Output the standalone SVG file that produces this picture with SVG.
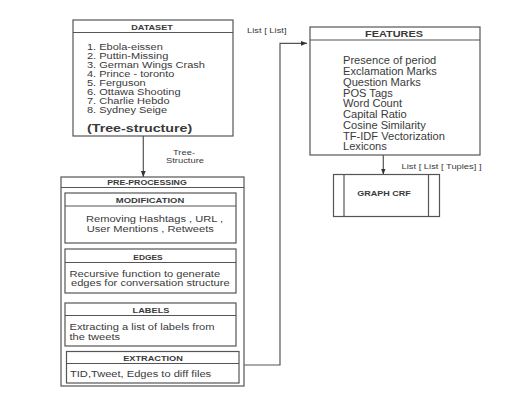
<svg xmlns="http://www.w3.org/2000/svg" width="529" height="403" viewBox="0 0 529 403">
<defs>
<style>
.b{fill:#fff;stroke:#555;stroke-width:1.2}
.l{fill:none;stroke:#555;stroke-width:1.2}
text{font-family:"Liberation Sans",Arial,sans-serif;fill:#3a3a3a}
.h{font-weight:bold;font-size:8px;text-anchor:middle}
.t{font-size:9.5px}
.f{font-size:10.5px}
.s{font-size:7.5px}
</style>
<marker id="ah" viewBox="0 0 10 10" refX="10" refY="5" markerWidth="6" markerHeight="6" markerUnits="userSpaceOnUse" orient="auto"><path d="M0,1 L10,5 L0,9 z" fill="#333"/></marker>
</defs>
<rect width="529" height="403" fill="#fff"/>
<g id="connectors">
<line class="l" x1="143.3" y1="136" x2="143.3" y2="177" marker-end="url(#ah)"/>
<polyline class="l" points="244,365 280,365 280,43.3 307,43.3" marker-end="url(#ah)"/>
<line class="l" x1="383.3" y1="155" x2="383.3" y2="174.5" marker-end="url(#ah)"/>
<text class="s" text-anchor="middle" transform="translate(184 155) scale(1.25 1)">Tree-</text>
<text class="s" text-anchor="middle" transform="translate(185 163) scale(1.25 1)">Structure</text>
<text class="s" transform="translate(247 32.5) scale(1.25 1)">List [ List]</text>
<text class="s" transform="translate(401.5 168.5) scale(1.25 1)">List [ List [ Tuples] ]</text>
</g>
<g id="dataset">
<rect class="b" x="73" y="20" width="160" height="116"/>
<line class="l" x1="73" y1="32.5" x2="233" y2="32.5"/>
<text class="h" transform="translate(152 29.5) scale(1.14 1)">DATASET</text>
<g transform="translate(87 0) scale(1.16 1)">
<text class="t" y="50.5">1. Ebola-eissen</text>
<text class="t" y="59.5">2. Puttin-Missing</text>
<text class="t" y="68.5">3. German Wings Crash</text>
<text class="t" y="77.5">4. Prince - toronto</text>
<text class="t" y="86.5">5. Ferguson</text>
<text class="t" y="95.5">6. Ottawa Shooting</text>
<text class="t" y="104.5">7. Charlie Hebdo</text>
<text class="t" y="113.5">8. Sydney Seige</text>
</g>
<text font-weight="bold" font-size="11.5" transform="translate(87 132) scale(1.24 1)">(Tree-structure)</text>
</g>
<g id="preprocessing">
<rect class="b" x="61" y="177" width="183" height="209"/>
<line class="l" x1="61" y1="187.5" x2="244" y2="187.5"/>
<text class="h" transform="translate(147 185) scale(1.1 1)">PRE-PROCESSING</text>
</g>
<g id="modification">
<rect class="b" x="65" y="193" width="171" height="50"/>
<line class="l" x1="65" y1="206" x2="236" y2="206"/>
<text class="h" transform="translate(150 203) scale(1.18 1)">MODIFICATION</text>
<g transform="translate(86 0) scale(1.17 1)">
<text class="t" y="222.5">Removing Hashtags , URL ,</text>
<text class="t" x="0.6" y="231.8">User Mentions , Retweets</text>
</g>
</g>
<g id="edges">
<rect class="b" x="65" y="249" width="171" height="44"/>
<line class="l" x1="65" y1="262.5" x2="236" y2="262.5"/>
<text class="h" transform="translate(148 259.5) scale(1.05 1)">EDGES</text>
<g transform="translate(69.5 0) scale(1.17 1)">
<text class="t" y="277">Recursive function to generate</text>
<text class="t" x="1.3" y="286.5">edges for conversation structure</text>
</g>
</g>
<g id="labels">
<rect class="b" x="65" y="303" width="171" height="43"/>
<line class="l" x1="65" y1="315.5" x2="236" y2="315.5"/>
<text class="h" transform="translate(151 312.5) scale(1.15 1)">LABELS</text>
<g transform="translate(69.5 0) scale(1.17 1)">
<text class="t" y="330.5">Extracting a list of labels from</text>
<text class="t" y="340">the tweets</text>
</g>
</g>
<g id="extraction">
<rect class="b" x="66.5" y="351.5" width="172.5" height="31.5"/>
<line class="l" x1="66.5" y1="363.5" x2="239" y2="363.5"/>
<text class="h" transform="translate(153 361) scale(1.15 1)">EXTRACTION</text>
<text class="t" transform="translate(70 376.5) scale(1.17 1)">TID,Tweet, Edges to diff files</text>
</g>
<g id="features">
<rect class="b" x="310" y="27" width="170" height="128"/>
<line class="l" x1="310" y1="40" x2="480" y2="40"/>
<text font-weight="bold" font-size="9.5" text-anchor="middle" transform="translate(394 37) scale(1.15 1)">FEATURES</text>
<g transform="translate(343 0) scale(1.06 1)">
<text class="f" y="64.5">Presence of period</text>
<text class="f" y="75.25">Exclamation Marks</text>
<text class="f" y="86">Question Marks</text>
<text class="f" y="96.75">POS Tags</text>
<text class="f" y="107.5">Word Count</text>
<text class="f" y="118.25">Capital Ratio</text>
<text class="f" y="129">Cosine Similarity</text>
<text class="f" y="139.75">TF-IDF Vectorization</text>
<text class="f" y="150.5">Lexicons</text>
</g>
</g>
<g id="graphcrf">
<rect class="b" x="333.5" y="174.5" width="106" height="42"/>
<line class="l" x1="344" y1="174.5" x2="344" y2="216.5"/>
<line class="l" x1="428.5" y1="174.5" x2="428.5" y2="216.5"/>
<text font-weight="bold" font-size="7.5" text-anchor="middle" transform="translate(384 196) scale(1.2 1)">GRAPH CRF</text>
</g>
</svg>
